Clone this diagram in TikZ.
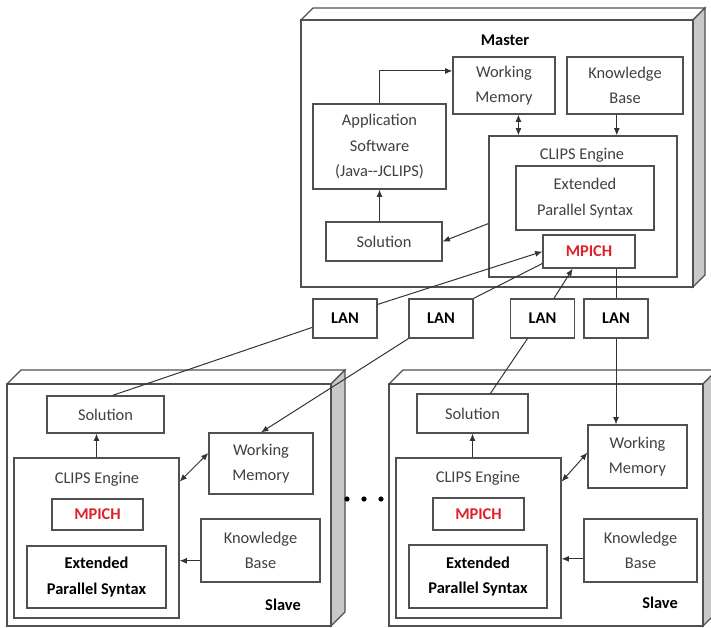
\documentclass[tikz,border=0pt]{standalone}
\usepackage{fontspec}
\setmainfont{Carlito}
\usepackage{xcolor}
\usepackage{tikz}
\usetikzlibrary{arrows.meta, calc}

\definecolor{boxgray}{HTML}{505050}
\definecolor{linegray}{HTML}{333333}
\definecolor{txtgray}{HTML}{404040}
\definecolor{sidegray}{HTML}{C8C8C8}
\definecolor{mpired}{HTML}{E0202A}

\newcommand{\diafont}{\fontsize{12.3}{19}\selectfont}
% cabinet: front top-left, front bottom-right, depth
\newcommand{\drawcabinet}[5]{%
  \draw[cab] (#1,#2) -- (#1+#5,#2-#5) -- (#3+#5,#2-#5) -- (#3,#2) -- cycle;
  \draw[cab, fill=sidegray] (#3,#2) -- (#3+#5,#2-#5) -- (#3+#5,#4-#5) -- (#3,#4) -- cycle;
  \draw[cab] (#1,#2) rectangle (#3,#4);
}

\begin{document}
\begin{tikzpicture}[
    x=0.75pt, y=-0.75pt,
    cab/.style={draw=boxgray, line width=0.9pt, fill=white},
    box/.style={rectangle, draw=boxgray, line width=0.9pt, fill=white, align=center, inner sep=2pt, font=\diafont, text=txtgray},
    bbox/.style={box, font=\diafont\bfseries, text=black},
    mpi/.style={box, font=\diafont\bfseries, text=mpired},
    lan/.style={bbox, minimum width=48pt, minimum height=29.25pt},
    txt/.style={font=\diafont, text=txtgray, inner sep=0pt},
    head/.style={font=\diafont\bfseries, text=black, inner sep=0pt},
    line/.style={draw=linegray, line width=0.75pt},
    arr/.style={line, -{Latex[length=5.5pt,width=4.5pt]}},
    darr/.style={line, {Latex[length=5.5pt,width=4.5pt]}-{Latex[length=5.5pt,width=4.5pt]}},
  ]
  \clip (0,0) rectangle (711,628);

  % Cabinets
  \drawcabinet{301}{20}{693}{287}{12}
  \drawcabinet{7}{384}{331}{626}{14}
  \drawcabinet{389}{384}{703}{626}{14}

  % Master
  \node[head] (mlbl) at (505,40) {Master};
  \node[box, minimum width=76.5pt, minimum height=42.75pt] (mwm) at (504,85.5) {Working\\Memory};
  \node[box, minimum width=87pt, minimum height=42.75pt] (mkb) at (625,85.5) {Knowledge\\Base};
  \node[box, minimum width=99.75pt, minimum height=63.75pt] (mapp) at (379.5,146.5) {Application\\Software\\(Java-{}-JCLIPS)};
  \node[box, minimum width=87pt, minimum height=29.25pt] (msol) at (384,241.5) {Solution};
  \node[box, minimum width=141pt, minimum height=105.75pt] (mclips) at (583,206.5) {};
  \node[txt] (mclipst) at (582,155) {CLIPS Engine};
  \node[box, minimum width=103.5pt, minimum height=48pt] (meps) at (585,198) {Extended\\Parallel Syntax};
  \node[mpi, minimum width=69pt, minimum height=24.75pt] (mmpi) at (589,251.5) {MPICH};

  % LAN
  \node[lan] (lan1) at (345,318.5) {LAN};
  \node[lan] (lan2) at (441,318.5) {LAN};
  \node[lan] (lan3) at (542.5,318.5) {LAN};
  \node[lan] (lan4) at (616,318.5) {LAN};

  % Slave 1
  \node[box, minimum width=87.75pt, minimum height=27.75pt] (s1sol) at (105.5,414.5) {Solution};
  \node[box, minimum width=123.75pt, minimum height=120pt] (s1clips) at (96.5,538) {};
  \node[txt] (s1clipst) at (97,479) {CLIPS Engine};
  \node[mpi, minimum width=68.25pt, minimum height=23.25pt] (s1mpi) at (97.5,514.5) {MPICH};
  \node[bbox, minimum width=104.25pt, minimum height=46.5pt] (s1eps) at (96.5,577) {Extended\\Parallel Syntax};
  \node[box, minimum width=78pt, minimum height=45.75pt] (s1wm) at (261,463.5) {Working\\Memory};
  \node[box, minimum width=89.25pt, minimum height=47.25pt] (s1kb) at (260.5,550.5) {Knowledge\\Base};
  \node[head] (s1lbl) at (283,605) {Slave};

  % Slave 2
  \node[box, minimum width=83.25pt, minimum height=29.25pt] (s2sol) at (472.5,413.5) {Solution};
  \node[box, minimum width=123.75pt, minimum height=120pt] (s2clips) at (478.5,538) {};
  \node[txt] (s2clipst) at (478,478) {CLIPS Engine};
  \node[mpi, minimum width=68.25pt, minimum height=24pt] (s2mpi) at (478.5,514) {MPICH};
  \node[bbox, minimum width=103.5pt, minimum height=47.25pt] (s2eps) at (478,576.5) {Extended\\Parallel Syntax};
  \node[box, minimum width=74.25pt, minimum height=47.25pt] (s2wm) at (637.5,456.5) {Working\\Memory};
  \node[box, minimum width=84.75pt, minimum height=47.25pt] (s2kb) at (640.5,550.5) {Knowledge\\Base};
  \node[head] (s2lbl) at (660,603) {Slave};

  % more slaves
  \foreach \dx in {347,364,381}
    \fill[black] (\dx,499) circle (2.6);

  % Master links
  \coordinate (mwmin) at ($(mwm.north west)!0.25!(mwm.south west)$);
  \coordinate (mwmout) at ($(mwm.south west)!0.64!(mwm.south east)$);
  \coordinate (mkbout) at ($(mkb.south west)!0.43!(mkb.south east)$);
  \draw[arr] (mapp.north) |- (mwmin);
  \draw[darr] (mwmout) -- (mwmout |- mclips.north);
  \draw[arr] (mkbout) -- (mkbout |- mclips.north);
  \draw[arr] (msol.north -| mapp.south) -- (mapp.south);
  \draw[arr] ($(mclips.north west)!0.62!(mclips.south west)$) -- (msol.east);

  % LAN links
  \draw[arr] ($(lan1.north east)!0.15!(lan1.south east)$) -- (mmpi.west);
  \draw[line] ($(mmpi.north west)!0.85!(mmpi.south west)$) -- (lan2.north east);
  \draw[arr] ($(lan3.north)!0.35!(lan3.north east)$) -- ($(mmpi.south)!0.35!(mmpi.south west)$);
  \draw[line] (lan4.north |- mmpi.south) -- (lan4.north);
  \draw[line] ($(lan1.north west)!0.72!(lan1.south west)$) -- ($(s1sol.north west)!0.56!(s1sol.north east)$);
  \draw[arr] (lan2.south west) -- (s1wm.north);
  \draw[line] ($(lan3.south west)!0.27!(lan3.south east)$) -- ($(s2sol.north west)!0.66!(s2sol.north east)$);
  \draw[arr] (lan4.south) -- (lan4.south |- s2wm.north);

  % Slave 1 links
  \coordinate (s1kbout) at ($(s1kb.north west)!0.66!(s1kb.south west)$);
  \draw[arr] (s1clips.north) -- (s1clips.north |- s1sol.south);
  \draw[darr] ($(s1wm.north west)!0.33!(s1wm.south west)$) -- ($(s1clips.north east)!0.15!(s1clips.south east)$);
  \draw[arr] (s1kbout) -- (s1kbout -| s1clips.east);

  % Slave 2 links
  \coordinate (s2kbout) at ($(s2kb.north west)!0.63!(s2kb.south west)$);
  \draw[arr] (s2sol.south |- s2clips.north) -- (s2sol.south);
  \draw[darr] ($(s2wm.north west)!0.44!(s2wm.south west)$) -- ($(s2clips.north east)!0.15!(s2clips.south east)$);
  \draw[arr] (s2kbout) -- (s2kbout -| s2clips.east);

\end{tikzpicture}
\end{document}
